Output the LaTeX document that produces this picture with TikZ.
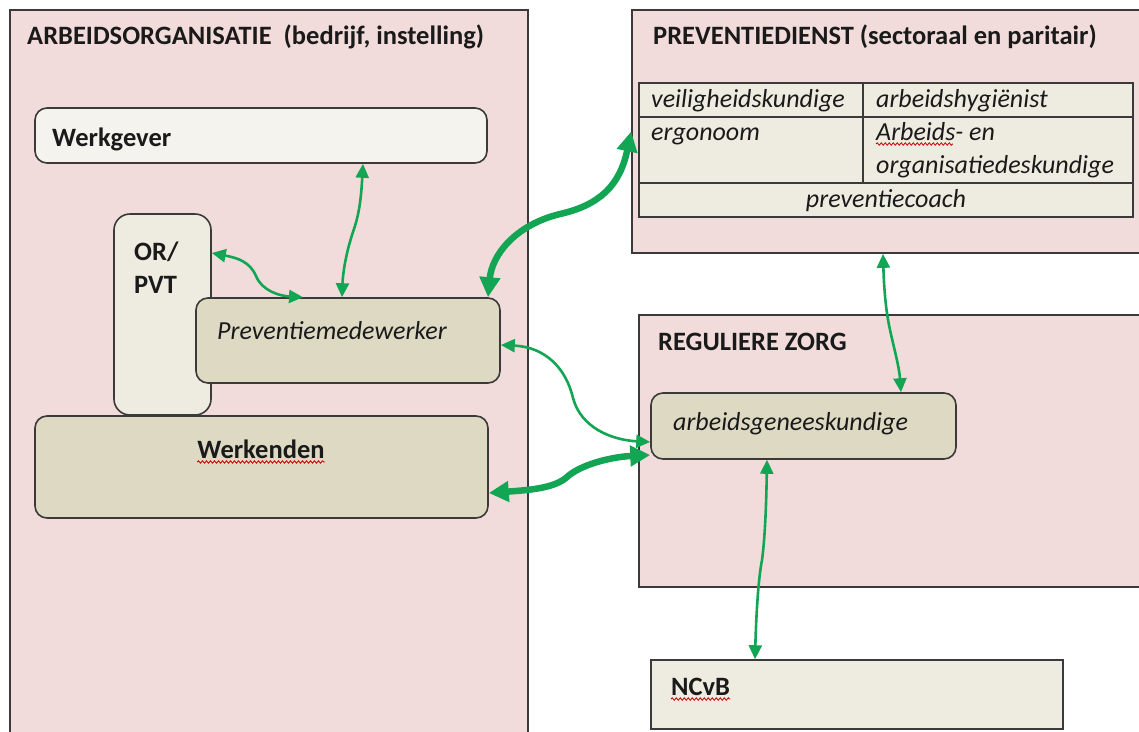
\documentclass[tikz,border=0pt]{standalone}
\usepackage{fontspec}
\setmainfont{Carlito}
\usetikzlibrary{arrows.meta,decorations.pathmorphing}
\definecolor{pinkbg}{HTML}{F2DCDB}
\definecolor{tanfill}{HTML}{DDD9C3}
\definecolor{lightfill}{HTML}{EEECE1}
\definecolor{paperfill}{HTML}{F5F3EE}
\definecolor{edge}{HTML}{3A3A3A}
\definecolor{arrowgreen}{HTML}{12A554}
\definecolor{ink}{HTML}{1A1A1A}
\tikzset{
  region/.style={draw=edge, line width=1.7pt, fill=pinkbg, rectangle, inner sep=0pt},
  rbox/.style={draw=edge, line width=1.6pt, rounded corners=12pt, rectangle, inner sep=0pt},
  sqbox/.style={draw=edge, line width=1.5pt, rectangle, inner sep=0pt, fill=lightfill},
  txt/.style={anchor=base west, inner sep=0pt, text=ink, font=\fontsize{26}{30}\selectfont},
  btxt/.style={txt, font=\fontsize{26.5}{30}\selectfont\bfseries},
  itxt/.style={txt, font=\fontsize{26}{30}\selectfont\itshape},
  thin link/.style={draw=arrowgreen, line width=2.6pt, {Triangle[length=14pt,width=13pt]}-{Triangle[length=14pt,width=13pt]}},
  thick link/.style={draw=arrowgreen, line width=6.5pt, {Triangle[length=20pt,width=20pt]}-{Triangle[length=20pt,width=20pt]}},
  squiggle/.style={draw=red!80!black, line width=0.8pt, decorate, decoration={snake, amplitude=1.2pt, segment length=4pt}},
}
\begin{document}
\begin{tikzpicture}[x=1pt,y=-1pt]
\useasboundingbox (0,0) rectangle (1139,731);
\fill[white] (0,0) rectangle (1139,731);

% regions
\node[region, minimum width=518pt, minimum height=740pt] (org) at (269,380) {};
\node[region, minimum width=520pt, minimum height=243pt] (pd) at (892,131.5) {};
\node[region, minimum width=513pt, minimum height=272pt] (rz) at (895.5,451) {};

% boxes in the organisation
\node[rbox, fill=paperfill, minimum width=452pt, minimum height=55pt] (wg) at (261,135.5) {};
\node[rbox, fill=lightfill, rounded corners=16pt, minimum width=97pt, minimum height=201pt] (orpvt) at (162.5,314.5) {};
\node[rbox, fill=tanfill, minimum width=304pt, minimum height=85pt] (pm) at (348,340.5) {};
\node[rbox, fill=tanfill, minimum width=453pt, minimum height=102pt] (wk) at (261.5,467) {};

% other boxes
\node[rbox, fill=tanfill, minimum width=305pt, minimum height=66pt] (ag) at (803.5,426) {};
\node[sqbox, minimum width=412pt, minimum height=69pt] (ncvb) at (857,694.5) {};

% table
\node[sqbox, minimum width=224pt, minimum height=34pt] (c11) at (751,100) {};
\node[sqbox, minimum width=270pt, minimum height=34pt] (c12) at (998,100) {};
\node[sqbox, minimum width=224pt, minimum height=66pt] (c21) at (751,150) {};
\node[sqbox, minimum width=270pt, minimum height=66pt] (c22) at (998,150) {};
\node[sqbox, minimum width=494pt, minimum height=34pt] (c3) at (886,200) {};

% texts
\node[btxt] (orgtitle) at (27,44) {ARBEIDSORGANISATIE\ \ (bedrijf, instelling)};
\node[btxt] (pdtitle) at (653,44) {PREVENTIEDIENST (sectoraal en paritair)};
\node[btxt] (wgt) at (52,146) {Werkgever};
\node[btxt] (ort) at (134,260) {OR/};
\node[btxt] (pvtt) at (134,293) {PVT};
\node[itxt] (pmt) at (217,339) {Preventiemedewerker};
\node[btxt, anchor=base] (wkt) at (261,458) {Werkenden};
\node[itxt] (t11) at (651,107) {veiligheidskundige};
\node[itxt] (t12) at (876,107) {arbeidshygiënist};
\node[itxt] (t21) at (651,140) {ergonoom};
\node[itxt] (t22a) at (876,140) {Arbeids- en};
\node[itxt] (t22b) at (876,173) {organisatiedeskundige};
\node[itxt, anchor=base] (t3) at (886,207) {preventiecoach};
\node[btxt] (rzt) at (658,350) {REGULIERE ZORG};
\node[itxt] (agt) at (673,430) {arbeidsgeneeskundige};
\node[btxt] (ncvbt) at (671,695) {NCvB};

% spell-check squiggles
\draw[squiggle] ([yshift=-4pt]wkt.base west) -- ([yshift=-4pt]wkt.base east);
\draw[squiggle] ([yshift=-4pt]t22a.base west) -- ([yshift=-4pt,xshift=77pt]t22a.base west);
\draw[squiggle] ([yshift=-4pt]ncvbt.base west) -- ([yshift=-4pt]ncvbt.base east);

% connectors
\draw[thin link] ([xshift=102pt]wg.south) .. controls (361,200) and (359,215) .. (353,232) .. controls (347,250) and (343,270) .. ([xshift=-6pt]pm.north);
\draw[thin link] ([yshift=61.5pt]orpvt.east) .. controls (238,258) and (250,262) .. (256,276) .. controls (262,291) and (280,296) .. ([xshift=-45pt]pm.north);
\draw[thick link] (pd.west) .. controls (620,185) and (600,205) .. (560,214) .. controls (515,225) and (492,255) .. ([xshift=140pt]pm.north);
\draw[thin link] ([yshift=-4.5pt]pm.east) .. controls (545,347) and (566,368) .. (573,398) .. controls (581,428) and (612,440) .. ([yshift=-16pt]ag.west);
\draw[thick link] ([yshift=-26pt]wk.east) .. controls (530,490) and (555,488) .. (567,477) .. controls (580,465) and (610,457) .. ([yshift=-29pt]ag.west);
\draw[thin link] ([xshift=-9pt]pd.south) .. controls (884,290) and (886,310) .. (889,325) .. controls (893,345) and (899,365) .. ([xshift=97.5pt]ag.north);
\draw[thin link] ([xshift=-36.5pt]ag.south) .. controls (766,520) and (764,545) .. (762,560) .. controls (758,580) and (756,620) .. ([xshift=-102pt]ncvb.north);
\end{tikzpicture}
\end{document}
